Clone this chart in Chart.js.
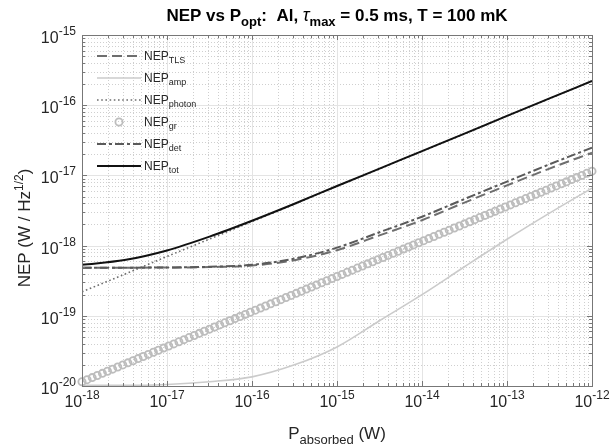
<!DOCTYPE html>
<html>
<head>
<meta charset="utf-8">
<script src="https://cdn.jsdelivr.net/npm/chart.js@4.4.1/dist/chart.umd.min.js"></script>
<style>
  html, body { margin: 0; padding: 0; background: #fff; }
  canvas { display: block; }
</style>
</head>
<body>
<canvas id="nepChart" width="610" height="447"></canvas>
<script>
(function() {

    "use strict";

    // absorbed power, log10(W), for the line curves
    const powerExp = [-18, -17.5, -17, -16.5, -16, -15.5, -15, -14.5, -14, -13.5, -13, -12.5, -12];

    // NEP values (W / Hz^1/2)
    const nepTLS    = [4.85e-19, 4.85e-19, 4.87e-19, 4.95e-19, 5.2e-19, 6.2e-19, 8.6e-19, 1.4e-18, 2.3e-18, 4.1e-18, 7.2e-18, 1.25e-17, 2.1e-17];
    const nepAmp    = [1.02e-20, 1.02e-20, 1.05e-20, 1.15e-20, 1.35e-20, 2.0e-20, 3.6e-20, 8.5e-20, 2.0e-19, 5.0e-19, 1.23e-18, 2.9e-18, 6.6e-18];
    const nepPhoton = [2.2e-19, 3.9e-19, 7.0e-19, 1.24e-18, 2.2e-18, 3.9e-18, 7.0e-18, 1.24e-17, 2.2e-17, 3.9e-17, 7.0e-17, 1.24e-16, 2.2e-16];
    const nepDet    = [4.85e-19, 4.85e-19, 4.88e-19, 4.99e-19, 5.33e-19, 6.53e-19, 9.35e-19, 1.55e-18, 2.58e-18, 4.61e-18, 8.16e-18, 1.44e-17, 2.48e-17];
    const nepTot    = [5.33e-19, 6.22e-19, 8.53e-19, 1.34e-18, 2.26e-18, 3.95e-18, 7.06e-18, 1.25e-17, 2.22e-17, 3.93e-17, 7.05e-17, 1.25e-16, 2.21e-16];

    // generation-recombination markers: log10 of power and log10 of NEP
    const grPowerExp = [
        -18.00, -17.94, -17.88, -17.82, -17.76, -17.70, -17.64, -17.58, -17.52, -17.46,
        -17.40, -17.34, -17.28, -17.22, -17.16, -17.10, -17.04, -16.98, -16.92, -16.86,
        -16.80, -16.74, -16.68, -16.62, -16.56, -16.50, -16.44, -16.38, -16.32, -16.26,
        -16.20, -16.14, -16.08, -16.02, -15.96, -15.90, -15.84, -15.78, -15.72, -15.66,
        -15.60, -15.54, -15.48, -15.42, -15.36, -15.30, -15.24, -15.18, -15.12, -15.06,
        -15.00, -14.94, -14.88, -14.82, -14.76, -14.70, -14.64, -14.58, -14.52, -14.46,
        -14.40, -14.34, -14.28, -14.22, -14.16, -14.10, -14.04, -13.98, -13.92, -13.86,
        -13.80, -13.74, -13.68, -13.62, -13.56, -13.50, -13.44, -13.38, -13.32, -13.26,
        -13.20, -13.14, -13.08, -13.02, -12.96, -12.90, -12.84, -12.78, -12.72, -12.66,
        -12.60, -12.54, -12.48, -12.42, -12.36, -12.30, -12.24, -12.18, -12.12, -12.06,
        -12.00
    ];
    const nepGrExp = [
        -19.94, -19.91, -19.88, -19.85, -19.82, -19.79, -19.76, -19.73, -19.70, -19.67,
        -19.64, -19.61, -19.58, -19.55, -19.52, -19.49, -19.46, -19.43, -19.40, -19.37,
        -19.34, -19.31, -19.28, -19.25, -19.22, -19.19, -19.16, -19.13, -19.10, -19.07,
        -19.04, -19.01, -18.98, -18.95, -18.92, -18.89, -18.86, -18.83, -18.80, -18.77,
        -18.74, -18.71, -18.68, -18.65, -18.62, -18.59, -18.56, -18.53, -18.50, -18.47,
        -18.44, -18.41, -18.38, -18.35, -18.32, -18.29, -18.26, -18.23, -18.20, -18.17,
        -18.14, -18.11, -18.08, -18.05, -18.02, -17.99, -17.96, -17.93, -17.90, -17.87,
        -17.84, -17.81, -17.78, -17.75, -17.72, -17.69, -17.66, -17.63, -17.60, -17.57,
        -17.54, -17.51, -17.48, -17.45, -17.42, -17.39, -17.36, -17.33, -17.30, -17.27,
        -17.24, -17.21, -17.18, -17.15, -17.12, -17.09, -17.06, -17.03, -17.00, -16.97,
        -16.94
    ];

    // axis decades
    const xDecades = [-18, -17, -16, -15, -14, -13, -12];
    const yDecades = [-20, -19, -18, -17, -16, -15];

    const FONT = '"Liberation Sans", Arial, Helvetica, sans-serif';

    const toPoints = (ys) => powerExp.map((e, i) => ({ x: Math.pow(10, e), y: ys[i] }));
    const grPoints = grPowerExp.map((e, i) => ({ x: Math.pow(10, e), y: Math.pow(10, nepGrExp[i]) }));

    // draw text made of runs (normal, subscript, superscript)
    function richText(ctx, parts, x, y, align) {
        let total = 0;
        parts.forEach(function(p) {
            ctx.font = (p.style || '') + ' ' + p.size + 'px ' + FONT;
            p.w = ctx.measureText(p.t).width;
            total += p.w;
        });
        let cx = x;
        if (align === 'center') cx = x - total / 2;
        if (align === 'right') cx = x - total;
        ctx.textAlign = 'left';
        ctx.textBaseline = 'alphabetic';
        parts.forEach(function(p) {
            ctx.font = (p.style || '') + ' ' + p.size + 'px ' + FONT;
            ctx.fillText(p.t, cx, y + (p.dy || 0));
            cx += p.w;
        });
    }

    const minorValues = (decades) => {
        let out = [];
        for (let i = 0; i < decades.length - 1; i++) {
            for (let m = 2; m <= 9; m++) out.push(m * Math.pow(10, decades[i]));
        }
        return out;
    };

    const gridPlugin = {
        id: 'matlabGrid',
        beforeDatasetsDraw(chart) {
            const ctx = chart.ctx, a = chart.chartArea;
            const xs = chart.scales.x, ys = chart.scales.y;
            ctx.save();
            ctx.lineWidth = 1;
            // minor dotted grid
            ctx.strokeStyle = '#cfcfcf';
            ctx.setLineDash([1, 2]);
            minorValues(xDecades).forEach(function(v) {
                const px = Math.round(xs.getPixelForValue(v)) + 0.5;
                ctx.beginPath(); ctx.moveTo(px, a.top); ctx.lineTo(px, a.bottom); ctx.stroke();
            });
            minorValues(yDecades).forEach(function(v) {
                const py = Math.round(ys.getPixelForValue(v)) + 0.5;
                ctx.beginPath(); ctx.moveTo(a.left, py); ctx.lineTo(a.right, py); ctx.stroke();
            });
            // major grid
            ctx.setLineDash([]);
            ctx.strokeStyle = '#e4e4e4';
            xDecades.forEach(function(n) {
                const px = Math.round(xs.getPixelForValue(Math.pow(10, n))) + 0.5;
                ctx.beginPath(); ctx.moveTo(px, a.top); ctx.lineTo(px, a.bottom); ctx.stroke();
            });
            yDecades.forEach(function(n) {
                const py = Math.round(ys.getPixelForValue(Math.pow(10, n))) + 0.5;
                ctx.beginPath(); ctx.moveTo(a.left, py); ctx.lineTo(a.right, py); ctx.stroke();
            });
            ctx.restore();
        },
        afterDatasetsDraw(chart) {
            const ctx = chart.ctx, a = chart.chartArea;
            const xs = chart.scales.x, ys = chart.scales.y;
            ctx.save();
            ctx.strokeStyle = '#777';
            ctx.lineWidth = 1;
            // ticks, inside, all four sides
            const tickX = (v, len) => {
                const px = Math.round(xs.getPixelForValue(v)) + 0.5;
                ctx.beginPath();
                ctx.moveTo(px, a.bottom); ctx.lineTo(px, a.bottom - len);
                ctx.moveTo(px, a.top); ctx.lineTo(px, a.top + len);
                ctx.stroke();
            };
            const tickY = (v, len) => {
                const py = Math.round(ys.getPixelForValue(v)) + 0.5;
                ctx.beginPath();
                ctx.moveTo(a.left, py); ctx.lineTo(a.left + len, py);
                ctx.moveTo(a.right, py); ctx.lineTo(a.right - len, py);
                ctx.stroke();
            };
            minorValues(xDecades).forEach(v => tickX(v, 3));
            minorValues(yDecades).forEach(v => tickY(v, 3));
            xDecades.forEach(n => tickX(Math.pow(10, n), 5));
            yDecades.forEach(n => tickY(Math.pow(10, n), 5));
            ctx.strokeRect(Math.round(a.left) + 0.5, Math.round(a.top) + 0.5,
                Math.round(a.right - a.left), Math.round(a.bottom - a.top));

            // tick labels
            ctx.fillStyle = '#262626';
            xDecades.forEach(function(n) {
                const px = xs.getPixelForValue(Math.pow(10, n));
                richText(ctx, [{ t: '10', size: 16 }, { t: String(n), size: 12, dy: -8 }], px, a.bottom + 21, 'center');
            });
            yDecades.forEach(function(n) {
                const py = ys.getPixelForValue(Math.pow(10, n));
                richText(ctx, [{ t: '10', size: 16 }, { t: String(n), size: 12, dy: -8 }], a.left - 6, py + 8, 'right');
            });

            // axis titles
            richText(ctx, [{ t: 'P', size: 17 }, { t: 'absorbed', size: 13, dy: 5 }, { t: ' (W)', size: 17 }],
                (a.left + a.right) / 2, 439, 'center');
            ctx.save();
            ctx.translate(24, 228);
            ctx.rotate(-Math.PI / 2);
            richText(ctx, [{ t: 'NEP (W / Hz', size: 17 }, { t: '1/2', size: 12, dy: -7 }, { t: ')', size: 17 }], 0, 6, 'center');
            ctx.restore();

            // title
            ctx.fillStyle = '#000';
            richText(ctx, [
                { t: 'NEP vs P', size: 17, style: 'bold' },
                { t: 'opt', size: 13, style: 'bold', dy: 5 },
                { t: ':  Al, ', size: 17, style: 'bold' },
                { t: '\u03C4', size: 18, style: 'italic' },
                { t: 'max', size: 13, style: 'bold', dy: 5 },
                { t: ' = 0.5 ms, T = 100 mK', size: 17, style: 'bold' }
            ], (a.left + a.right) / 2, 21, 'center');

            // legend
            const items = chart.data.datasets.slice().sort((p, q) => p.legendRank - q.legendRank);
            const lx0 = 97, lx1 = 141, ly0 = 56, step = 22;
            items.forEach(function(ds, i) {
                const y = ly0 + i * step;
                ctx.save();
                if (ds.showLine === false) {
                    ctx.strokeStyle = ds.borderColor;
                    ctx.lineWidth = ds.borderWidth;
                    ctx.beginPath();
                    ctx.arc((lx0 + lx1) / 2, y, ds.pointRadius, 0, Math.PI * 2);
                    ctx.stroke();
                } else {
                    ctx.strokeStyle = ds.borderColor;
                    ctx.lineWidth = ds.borderWidth;
                    ctx.setLineDash(ds.borderDash || []);
                    ctx.beginPath(); ctx.moveTo(lx0, y); ctx.lineTo(lx1, y); ctx.stroke();
                }
                ctx.restore();
                ctx.fillStyle = '#262626';
                richText(ctx, [{ t: 'NEP', size: 12 }, { t: ds.label, size: 9, dy: 3 }], lx1 + 3, y + 4, 'left');
            });
            ctx.restore();
        }
    };

    const lineStyle = { showLine: true, pointRadius: 0, fill: false, cubicInterpolationMode: 'monotone' };

    new Chart(document.getElementById('nepChart'), {
        type: 'scatter',
        data: {
            datasets: [
                Object.assign({ label: 'tot', legendRank: 5, order: 0, data: toPoints(nepTot),
                    borderColor: '#111111', borderWidth: 2 }, lineStyle),
                Object.assign({ label: 'det', legendRank: 4, order: 1, data: toPoints(nepDet),
                    borderColor: '#5a5a5a', borderWidth: 2, borderDash: [9, 3, 3, 3] }, lineStyle),
                { label: 'gr', legendRank: 3, order: 2, data: grPoints, showLine: false,
                    pointRadius: 3.6, pointBorderWidth: 1.8, borderWidth: 1.8, pointHoverRadius: 3.6,
                    borderColor: '#bdbdbd', pointBorderColor: '#bdbdbd', pointBackgroundColor: 'rgba(0,0,0,0)',
                    backgroundColor: 'rgba(0,0,0,0)', clip: 6 },
                Object.assign({ label: 'photon', legendRank: 2, order: 3, data: toPoints(nepPhoton),
                    borderColor: '#6e6e6e', borderWidth: 1.6, borderDash: [1.6, 2.6] }, lineStyle),
                Object.assign({ label: 'amp', legendRank: 1, order: 4, data: toPoints(nepAmp),
                    borderColor: '#cbcbcb', borderWidth: 1.6 }, lineStyle),
                Object.assign({ label: 'TLS', legendRank: 0, order: 5, data: toPoints(nepTLS),
                    borderColor: '#6e6e6e', borderWidth: 2, borderDash: [10, 5] }, lineStyle)
            ]
        },
        options: {
            responsive: false,
            animation: false,
            devicePixelRatio: 1,
            layout: { padding: { left: 82, right: 18, top: 35, bottom: 61 } },
            plugins: { legend: { display: false }, tooltip: { enabled: false }, title: { display: false } },
            scales: {
                x: { type: 'logarithmic', min: 1e-18, max: 1e-12, display: false },
                y: { type: 'logarithmic', min: 1e-20, max: 1e-15, display: false }
            }
        },
        plugins: [gridPlugin]
    });
})();
</script>
</body>
</html>
